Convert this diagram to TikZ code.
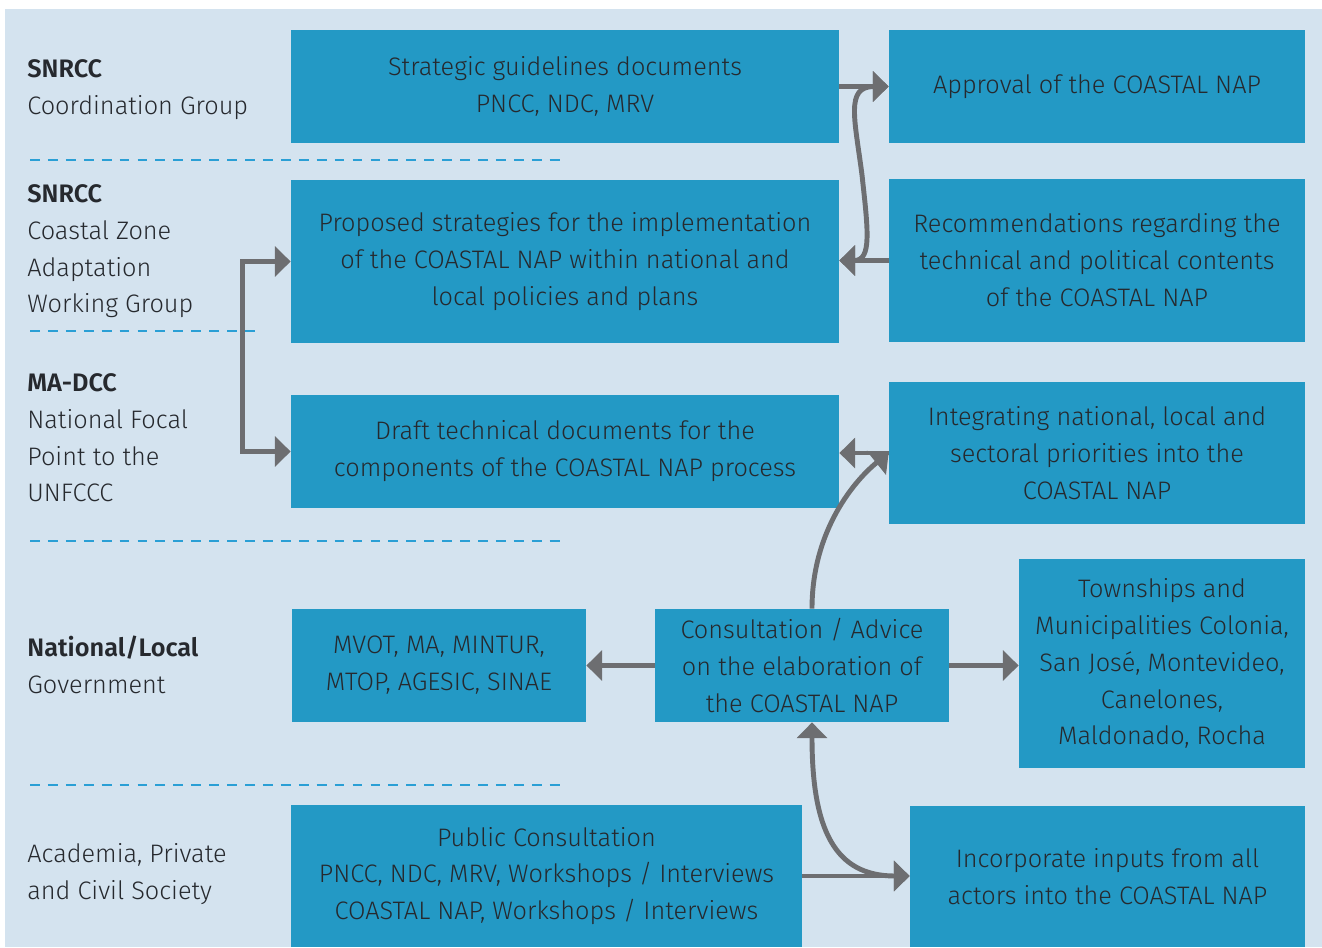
\documentclass[tikz,border=0pt]{standalone}
\usepackage{fontspec}
\setmainfont{Fira Sans}[UprightFont=* Light, BoldFont=* SemiBold]
\usepackage{tikz}
\usetikzlibrary{arrows.meta}
\newlength\pxu
\setlength\pxu{0.02cm}
\definecolor{bgblue}{HTML}{D4E3EF}
\definecolor{boxblue}{HTML}{2399C5}
\definecolor{arrgray}{HTML}{6D6E71}
\definecolor{dashblue}{HTML}{2A9FD5}
\definecolor{txtgray}{HTML}{26292E}

\begin{document}
\begin{tikzpicture}[
      x=\pxu, y=-\pxu,
      box/.style={
        rectangle, fill=boxblue, text=txtgray, align=center,
        inner sep=0pt, font=\fontsize{14.4}{21}\selectfont
      },
      lbl/.style={
        anchor=north west, align=left, inner sep=0pt,
        text=txtgray, font=\fontsize{14.4}{21}\selectfont
      },
      arr/.style={
        draw=arrgray, line width=2.8pt,
        -{Triangle[length=9pt, width=17pt]}
      },
      sep/.style={
        draw=dashblue, line width=1.6pt,
        dash pattern=on 5.6pt off 4.6pt
      }
    ]
      \useasboundingbox (0,0) rectangle (1322,947);
      \fill[bgblue] (5,9) rectangle (1322,947);

      \foreach \y/\xe in {160/565,331/260,541/565,785/565} {
        \draw[sep] (30,\y) -- (\xe,\y);
      }

      \node[lbl] (grpcoord) at (27,59) {\textbf{SNRCC}\\Coordination Group};
      \node[lbl] (grpcoast) at (27,184) {\textbf{SNRCC}\\Coastal Zone\\Adaptation\\Working Group};
      \node[lbl] (grpfocal) at (27,373) {\textbf{MA-DCC}\\National Focal\\Point to the\\UNFCCC};
      \node[lbl] (grpgov) at (27,636) {\textbf{National/Local}\\Government};
      \node[lbl] (grpsoc) at (27,843) {Academia, Private\\and Civil Society};

      \node[box, minimum width=548\pxu, minimum height=113\pxu] (strat) at (565,86.5)
        {Strategic guidelines documents\\PNCC, NDC, MRV};
      \node[box, minimum width=416\pxu, minimum height=113\pxu] (approval) at (1097,86.5)
        {Approval of the COASTAL NAP};
      \node[box, minimum width=548\pxu, minimum height=163\pxu] (proposed) at (565,261.5)
        {Proposed strategies for the implementation\\of the COASTAL NAP within national and\\local policies and plans};
      \node[box, minimum width=416\pxu, minimum height=163\pxu] (recomm) at (1097,260.5)
        {Recommendations regarding the\\technical and political contents\\of the COASTAL NAP};
      \node[box, minimum width=548\pxu, minimum height=113\pxu] (draft) at (565,451.5)
        {Draft technical documents for the\\components of the COASTAL NAP process};
      \node[box, minimum width=416\pxu, minimum height=142\pxu] (integ) at (1097,453)
        {Integrating national, local and\\sectoral priorities into the\\COASTAL NAP};
      \node[box, minimum width=294\pxu, minimum height=113\pxu] (agencies) at (439,665.5)
        {MVOT, MA, MINTUR,\\MTOP, AGESIC, SINAE};
      \node[box, minimum width=294\pxu, minimum height=113\pxu] (consult) at (802,665.5)
        {Consultation / Advice\\on the elaboration of\\the COASTAL NAP};
      \node[box, minimum width=286\pxu, minimum height=209\pxu] (towns) at (1162,663.5)
        {Townships and\\Municipalities Colonia,\\San José, Montevideo,\\Canelones,\\Maldonado, Rocha};
      \node[box, minimum width=511\pxu, minimum height=142\pxu] (public) at (546.5,876)
        {Public Consultation\\PNCC, NDC, MRV, Workshops / Interviews\\COASTAL NAP, Workshops / Interviews};
      \node[box, minimum width=395\pxu, minimum height=141\pxu] (incorp) at (1107.5,876.5)
        {Incorporate inputs from all\\actors into the COASTAL NAP};

      \draw[arr] (strat.east) -- (strat.east -| approval.west);
      \draw[arr] (recomm.west) -- (recomm.west -| proposed.east);
      \draw[arr, {Triangle[length=9pt, width=17pt]}-{Triangle[length=9pt, width=17pt]}]
        (approval.west) .. controls (845,86.5) and (855,120) .. (862,175)
        .. controls (868,230) and (872,260.5) .. (recomm.west -| proposed.east);
      \draw[arr, {Triangle[length=9pt, width=17pt]}-{Triangle[length=9pt, width=17pt]}]
        (proposed.west) -- ++(-48,0) |- (draft.west);
      \draw[arr] (integ.west) -- (integ.west -| draft.east);
      \draw[arr] ([xshift=10\pxu]consult.north) .. controls (812,530) and (855,480) .. (integ.west);
      \draw[arr] (consult.west) -- (agencies.east);
      \draw[arr] (consult.east) -- (consult.east -| towns.west);
      \draw[arr] (public.east) -- (public.east -| incorp.west);
      \draw[arr, {Triangle[length=9pt, width=17pt]}-{Triangle[length=9pt, width=17pt]}]
        ([xshift=10\pxu]consult.south) .. controls (812,830) and (835,876) .. (public.east -| incorp.west);
    \end{tikzpicture}
\end{document}
